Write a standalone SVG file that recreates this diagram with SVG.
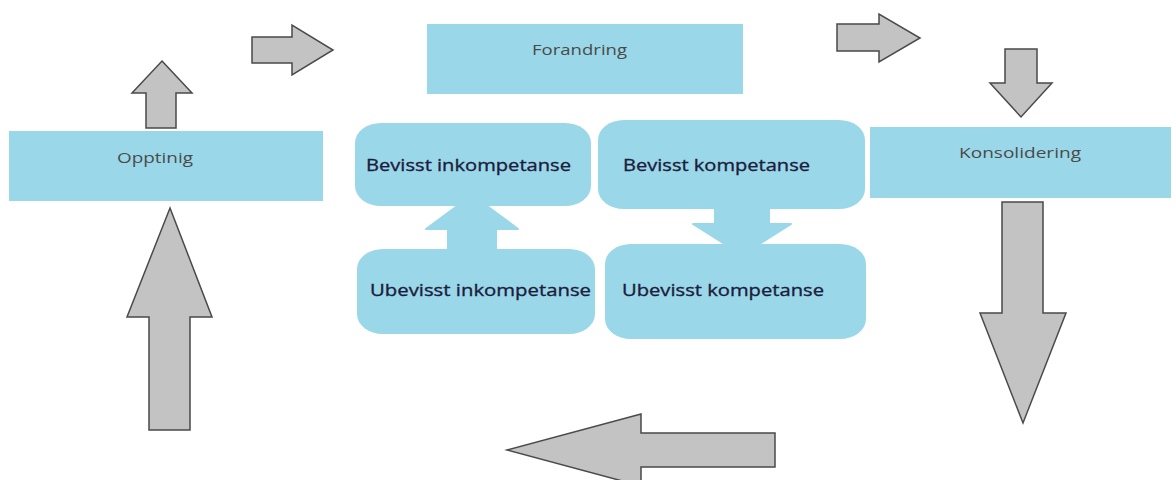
<svg xmlns="http://www.w3.org/2000/svg" width="1176" height="480" viewBox="0 0 1176 480">
  <style>
    .box { fill: #9ad8e9; }
    .arrow { fill: #c3c3c3; stroke: #4a4a4a; stroke-width: 1.5; stroke-linejoin: miter; }
    .barrow { fill: #9ad8e9; stroke: #9ad8e9; stroke-width: 2; stroke-linejoin: round; }
    .lbl { font-family: "Open Sans", "Noto Sans", sans-serif; font-size: 15px; fill: #4a4a4a; }
    .stage { font-family: "Open Sans", "Noto Sans", sans-serif; font-size: 17px; font-weight: normal; fill: #1c1c3c; stroke: #1c1c3c; stroke-width: 0.35; }
  </style>
  <rect width="1176" height="480" fill="#ffffff"/>

  <g id="connectors">
    <polygon class="arrow" points="162,61 192,93 176,93 176,128 146,128 146,93 132,93"/>
    <polygon class="arrow" points="252,37 292,37 292,25 333,50 292,75 292,63 252,63"/>
    <polygon class="arrow" points="837,24 879,24 879,14 920,38 879,62 879,51 837,51"/>
    <polygon class="arrow" points="1005,49 1037,49 1037,83 1052,83 1021,117 990,83 1005,83"/>
    <polygon class="arrow" points="1002,202 1043,202 1043,313 1066,313 1023,423 980,313 1002,313"/>
    <polygon class="arrow" points="170,208 212,317 190,317 190,430 149,430 149,317 127,317"/>
    <polygon class="arrow" points="507,450 641,414 641,433 775,433 775,467 641,467 641,486"/>
    <polygon class="barrow" points="472,195 518,229 496,229 496,252 448,252 448,229 426,229"/>
    <polygon class="barrow" points="715,205 769,205 769,224 791,224 742,255 693,224 715,224"/>
  </g>

  <g id="opptinig">
    <rect class="box" x="9" y="131" width="314" height="70"/>
    <text class="lbl" x="117" y="163" textLength="76" lengthAdjust="spacingAndGlyphs">Opptinig</text>
  </g>

  <g id="forandring">
    <rect class="box" x="427" y="24" width="316" height="70"/>
    <text class="lbl" x="532" y="55" textLength="95" lengthAdjust="spacingAndGlyphs">Forandring</text>
  </g>

  <g id="konsolidering">
    <rect class="box" x="870" y="127" width="301" height="71"/>
    <text class="lbl" x="959" y="158" textLength="122" lengthAdjust="spacingAndGlyphs">Konsolidering</text>
  </g>

  <g id="bevisst-inkompetanse">
    <rect class="box" x="355" y="123" width="236" height="83" rx="26" ry="20"/>
    <text class="stage" x="366" y="171" textLength="205" lengthAdjust="spacingAndGlyphs">Bevisst inkompetanse</text>
  </g>

  <g id="bevisst-kompetanse">
    <rect class="box" x="598" y="120" width="267" height="89" rx="26" ry="20"/>
    <text class="stage" x="623" y="171" textLength="187" lengthAdjust="spacingAndGlyphs">Bevisst kompetanse</text>
  </g>

  <g id="ubevisst-inkompetanse">
    <rect class="box" x="357" y="249" width="238" height="85" rx="26" ry="20"/>
    <text class="stage" x="370" y="296" textLength="221" lengthAdjust="spacingAndGlyphs">Ubevisst inkompetanse</text>
  </g>

  <g id="ubevisst-kompetanse">
    <rect class="box" x="605" y="244" width="261" height="95" rx="26" ry="20"/>
    <text class="stage" x="622" y="296" textLength="202" lengthAdjust="spacingAndGlyphs">Ubevisst kompetanse</text>
  </g>
</svg>
